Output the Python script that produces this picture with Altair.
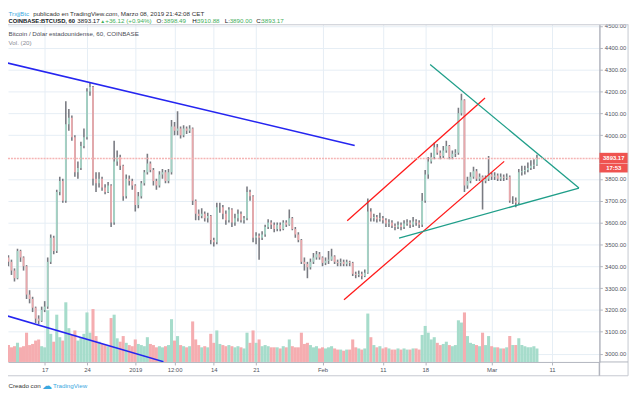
import altair as alt
import pandas as pd

# ---------------- data ----------------
day_start = -6.0          # days after 17 Dec 2018, 00:00
day_step = 0.5            # 12-hour candles
first_open = 3440

close = [
    3420, 3380, 3345, 3470, 3440, 3400, 3270, 3250, 3210, 3160,
    3150, 3200, 3215, 3420, 3530, 3470, 3740, 3790, 3700, 4050,
    4080, 3990, 3830, 3850, 3950, 3990, 4200, 4220, 3800, 3780,
    3800, 3760, 3740, 3770, 3600, 3880, 3900, 3860, 3720, 3800,
    3790, 3770, 3680, 3720, 3780, 3830, 3870, 3840, 3790, 3770,
    3820, 3830, 3790, 3830, 4040, 4020, 4030, 4000, 4030, 4020,
    4030, 3700, 3640, 3630, 3640, 3620, 3630, 3520, 3510, 3670,
    3670, 3640, 3610, 3660, 3600, 3620, 3640, 3610, 3620, 3740,
    3720, 3530, 3540, 3530, 3545, 3580, 3600, 3590, 3570, 3590,
    3570, 3600, 3590, 3620, 3570, 3545, 3520, 3420, 3410, 3395,
    3420, 3440, 3455, 3440, 3415, 3425, 3430, 3445, 3420, 3415,
    3420, 3410, 3420, 3415, 3365, 3360, 3365, 3355, 3370, 3650,
    3620, 3625, 3615, 3620, 3610, 3595, 3600, 3585, 3580, 3590,
    3580, 3595, 3600, 3590, 3605, 3600, 3590, 3700, 3820, 3880,
    3900, 3945, 3920, 3905, 3930, 3950, 3900, 3915, 3920, 4100,
    4160, 3770, 3790, 3810, 3835, 3800, 3810, 3790, 3800, 3820,
    3810, 3815, 3800, 3810, 3805, 3810, 3700, 3700, 3690, 3830,
    3835, 3840, 3850, 3860, 3865, 3893.17,
]
high = [
    3450, 3430, 3390, 3480, 3475, 3445, 3405, 3290, 3260, 3215,
    3175, 3215, 3240, 3440, 3545, 3540, 3750, 3810, 3800, 4155,
    4120, 4090, 4000, 3880, 3970, 4030, 4215, 4240, 4225, 3830,
    3830, 3810, 3775, 3785, 3775, 3975, 3930, 3910, 3865, 3820,
    3815, 3800, 3775, 3740, 3790, 3840, 3915, 3880, 3850, 3800,
    3835, 3845, 3840, 3845, 4070, 4060, 4110, 4040, 4045, 4040,
    4045, 4035, 3705, 3660, 3665, 3650, 3645, 3635, 3530, 3690,
    3690, 3680, 3655, 3670, 3665, 3640, 3660, 3650, 3630, 3765,
    3750, 3725, 3555, 3550, 3560, 3590, 3615, 3610, 3600, 3600,
    3600, 3610, 3610, 3660, 3625, 3580, 3555, 3525, 3440, 3420,
    3435, 3460, 3470, 3465, 3445, 3440, 3470, 3480, 3450, 3430,
    3435, 3430, 3430, 3425, 3420, 3375, 3380, 3375, 3385, 3710,
    3665, 3640, 3635, 3645, 3630, 3620, 3615, 3610, 3595, 3605,
    3600, 3610, 3615, 3610, 3625, 3615, 3610, 3735, 3840, 3900,
    3920, 3965, 3960, 3930, 3950, 3975, 3955, 3930, 3935, 4125,
    4190, 4165, 3810, 3830, 3855, 3845, 3825, 3815, 3815, 3905,
    3830, 3830, 3825, 3825, 3820, 3825, 3815, 3720, 3715, 3845,
    3860, 3860, 3875, 3885, 3890, 3910.88,
]
low = [
    3400, 3360, 3330, 3340, 3420, 3380, 3250, 3230, 3190, 3140,
    3135, 3145, 3190, 3205, 3410, 3455, 3460, 3725, 3690, 3690,
    4020, 3975, 3810, 3800, 3840, 3940, 3980, 4180, 3770, 3740,
    3760, 3745, 3730, 3735, 3580, 3590, 3860, 3840, 3700, 3710,
    3770, 3750, 3650, 3665, 3710, 3770, 3820, 3830, 3770, 3750,
    3760, 3800, 3780, 3780, 3820, 4000, 4000, 3985, 3990, 4005,
    4010, 3680, 3610, 3610, 3620, 3605, 3600, 3500, 3490, 3500,
    3645, 3615, 3590, 3600, 3580, 3585, 3605, 3600, 3595, 3610,
    3700, 3510, 3500, 3430, 3520, 3535, 3570, 3570, 3555, 3560,
    3560, 3565, 3580, 3585, 3565, 3530, 3510, 3410, 3380, 3345,
    3385, 3410, 3430, 3430, 3400, 3405, 3410, 3425, 3410, 3400,
    3400, 3400, 3400, 3400, 3355, 3345, 3350, 3340, 3350, 3365,
    3605, 3605, 3600, 3605, 3595, 3580, 3580, 3575, 3565, 3570,
    3565, 3570, 3585, 3575, 3580, 3585, 3575, 3580, 3690, 3800,
    3870, 3890, 3910, 3890, 3895, 3920, 3890, 3890, 3900, 3910,
    4090, 3740, 3755, 3780, 3800, 3790, 3790, 3660, 3780, 3790,
    3795, 3795, 3790, 3790, 3790, 3795, 3690, 3685, 3670, 3685,
    3815, 3820, 3830, 3840, 3845, 3860,
]
volume = [
    1500, 1300, 1400, 1700, 1300, 1400, 2600, 1500, 1600, 1900,
    2000, 1400, 1300, 4600, 2500, 1800, 4200, 2200, 1900, 5300,
    3000, 2400, 2800, 1900, 2200, 2500, 4400, 2600, 4700, 2300,
    1800, 1600, 1500, 1400, 3900, 4200, 2100, 1800, 2300, 1700,
    1500, 1400, 2000, 1600, 1500, 1400, 2200, 1600, 1500, 1300,
    1400, 1300, 1400, 1500, 3800, 1900, 2300, 1500, 1400, 1300,
    1400, 3600, 2000, 1500, 1300, 1400, 1300, 2500, 1700, 2800,
    1600, 1500, 1400, 1500, 1400, 1300, 1400, 1300, 1200, 2600,
    1700, 2800, 1700, 2000, 1400, 1500, 1400, 1300, 1300, 1300,
    1200, 1400, 1300, 2000, 1400, 1300, 1300, 2600, 1600, 1700,
    1500, 1300, 1400, 1200, 1300, 1200, 1300, 1400, 1200, 1100,
    1100, 1000, 1100, 1100, 2000, 1300, 1200, 1100, 1200, 4300,
    2200, 1500, 1300, 1400, 1200, 1300, 1200, 1100, 1100, 1200,
    1100, 1200, 1100, 1100, 1200, 1200, 1100, 2400, 3200, 2600,
    2000, 2200, 1700, 1500, 1600, 1800, 1500, 1400, 1500, 3700,
    3500, 4400, 2300, 1700, 1600, 1500, 1400, 2600, 1500, 2300,
    1400, 1300, 1300, 1200, 1200, 1300, 2300, 1500, 1500, 2100,
    1500, 1400, 1300, 1300, 1400, 1200,
]

tick_days = [0, 7, 15, 21.5, 28, 35, 46, 56, 63, 74, 84]
tick_labels = ["17", "24", "2019", "12:00", "14", "21", "Feb", "11", "18", "Mar", "11"]
# 3900 is hidden behind the last-price label, as in the reference
price_ticks = [3000, 3100, 3200, 3300, 3400, 3500, 3600, 3700, 3800,
               4000, 4100, 4200, 4300, 4400, 4500]

# drawn trend lines: (day, price) end points
blue_upper_d, blue_upper_p = [-6.54, 51.33], [4333, 3953]
blue_lower_d, blue_lower_p = [-6.54, 19.66], [3175, 2963]
red_upper_d, red_upper_p = [50.09, 72.91], [3608, 4170]
red_lower_d, red_lower_p = [49.56, 76.08], [3246, 3880]
green_upper_d, green_upper_p = [63.82, 88.46], [4324, 3758]
green_lower_d, green_lower_p = [58.67, 88.46], [3529, 3758]

last_price = 3893.17
last_time = "17:53"

# ---------------- table ----------------
n = len(close)
days = [day_start + day_step * i for i in range(n)]
opens = [first_open] + close[:-1]
df = pd.DataFrame({"d": days, "open": opens, "close": close,
                   "high": high, "low": low, "vol": volume})
df["dir"] = ["up" if c >= o else "down" for c, o in zip(close, opens)]

FONT = "Liberation Sans"
W, H = 599, 342

xs = alt.Scale(domain=[-5.256, 91.03], nice=False, zero=False)
ys = alt.Scale(domain=[2961.6, 4507.7], nice=False, zero=False)
vs = alt.Scale(domain=[0, 30000], nice=False)

label_cases = " : ".join(f"datum.value == {d:g} ? '{t}'" for d, t in zip(tick_days, tick_labels)) + " : ''"
x_axis = alt.Axis(values=tick_days, labelExpr=label_cases,
                  grid=True, gridColor="#e6eef5", gridWidth=1,
                  domainColor="#b2b5be", domainWidth=1, tickColor="#b2b5be",
                  tickSize=3, labelFontSize=6, labelFont=FONT, labelColor="#50535e",
                  labelPadding=2, labelFlush=False, labelOverlap=False, title=None)
y_axis = alt.Axis(orient="right", values=price_ticks, format=".2f",
                  grid=True, gridColor="#e6eef5", gridWidth=1,
                  domainColor="#b2b5be", domainWidth=1.5, tickColor="#b2b5be",
                  tickSize=3, labelFontSize=6, labelFont=FONT, labelColor="#50535e",
                  labelPadding=2, labelFlush=False, labelOverlap=False, title=None)


def X(field):
    return alt.X(f"{field}:Q", scale=xs, axis=x_axis)


def Y(field):
    return alt.Y(f"{field}:Q", scale=ys, axis=y_axis)


dir_scale = alt.Scale(domain=["up", "down"], range=["#53b987", "#eb4d5c"])
vol_scale = alt.Scale(domain=["up", "down"], range=["#a6dccb", "#f5adb0"])

base = alt.Chart(df)

vol = base.mark_bar(width=3.1, clip=True).encode(
    x=X("d"),
    y=alt.Y("vol:Q", scale=vs, axis=None),
    color=alt.Color("dir:N", scale=vol_scale, legend=None),
)

wick = base.mark_rule(color="#6a6d74", strokeWidth=1.6, clip=True, opacity=0.9).encode(
    x=X("d"), y=Y("low"), y2="high:Q",
)
body = base.mark_bar(width=1.8, clip=True, opacity=0.9).encode(
    x=X("d"), y=Y("open"), y2="close:Q",
    color=alt.Color("dir:N", scale=dir_scale, legend=None),
)


def trend(dd, pp, color, width):
    return alt.Chart(pd.DataFrame({"d": dd, "p": pp})).mark_line(
        color=color, strokeWidth=width, clip=True).encode(x=X("d"), y=Y("p"))


lines = [
    trend(blue_upper_d, blue_upper_p, "#2525f0", 1.6),
    trend(blue_lower_d, blue_lower_p, "#2525f0", 1.6),
    trend(red_upper_d, red_upper_p, "#ff1a1a", 1.3),
    trend(red_lower_d, red_lower_p, "#ff1a1a", 1.3),
    trend(green_upper_d, green_upper_p, "#1f9e89", 1.3),
    trend(green_lower_d, green_lower_p, "#1f9e89", 1.3),
]

lp = alt.Chart(pd.DataFrame({"p": [last_price]}))
price_line = lp.mark_rule(color="#f5b4b4", strokeWidth=1.5, strokeDash=[2, 1]).encode(y=Y("p"))
box1 = lp.transform_calculate(t="datum.p + 26", b="datum.p - 23").mark_rect(
    color="#ef5350").encode(x=alt.value(599), x2=alt.value(628), y=Y("t"), y2="b:Q")
box2 = lp.transform_calculate(t="datum.p - 25", b="datum.p - 64").mark_rect(
    color="#ef5350").encode(x=alt.value(599), x2=alt.value(628), y=Y("t"), y2="b:Q")
lab1 = lp.mark_text(color="white", font=FONT, fontSize=6, fontWeight="bold",
                    align="center", baseline="middle").encode(
    x=alt.value(613.5), y=Y("p"), text=alt.value(f"{last_price:.2f}"))
lab2 = lp.transform_calculate(q="datum.p - 44").mark_text(
    color="white", font=FONT, fontSize=6, fontWeight="bold",
    align="center", baseline="middle").encode(
    x=alt.value(613.5), y=Y("q"), text=alt.value(last_time))

price_group = alt.layer(wick, body, *lines, price_line, box1, box2, lab1, lab2)

one = pd.DataFrame({"a": [0]})


def txt(s, x, y, color="#131722", size=6.3, weight="normal", align="left"):
    return alt.Chart(one).mark_text(text=s, color=color, font=FONT, fontSize=size,
                                    fontWeight=weight, align=align, baseline="middle").encode(
        x=alt.value(x), y=alt.value(y))


def rule(x1, x2, y1, y2, color="#c5c8d0", w=1):
    return alt.Chart(one).mark_rule(color=color, strokeWidth=w).encode(
        x=alt.value(x1), x2=alt.value(x2), y=alt.value(y1), y2=alt.value(y2))


green = "#3fae5a"
decor = [
    rule(0, 628, 0.5, 0.5),
    rule(628, 628, 0, 356),
    rule(0, 628, 356, 356),
    rule(599, 628, 342, 342, "#b2b5be"),
    rule(599, 599, 342, 356, "#b2b5be", 1.5),
    txt("TrxjjBtc", 0.5, -10.5, color="#3aa8e0"),
    txt("publicado en TradingView.com, Marzo 08, 2019 21:42:08 CET", 25.5, -10.5, color="#333"),
    txt("COINBASE:BTCUSD, 60", 0.5, -3.5, weight="bold", size=5.9),
    txt("3893.17", 70.2, -3.5),
    txt("▲", 93.5, -3.5, color=green, size=5),
    txt("+36.12 (+0.94%)", 98.5, -3.5, color=green),
    txt("O:", 150.5, -3.5),
    txt("3898.49", 157.5, -3.5, color=green),
    txt("H:", 186.5, -3.5),
    txt("3910.88", 191.5, -3.5, color=green),
    txt("L:", 219.5, -3.5),
    txt("3890.00", 224.5, -3.5, color=green),
    txt("C:", 251.5, -3.5),
    txt("3893.17", 256.5, -3.5, color=green),
    txt("Bitcoin / Dólar estadounidense, 60, COINBASE", 0.5, 10.3, color="#4a4d57"),
    txt("Vol. (20)", 0.5, 18.7, color="#8a8d96"),
    txt("Creado con", 0.5, 366.3, color="#333"),
    txt("☁", 34, 366, color="#3aa8e0", size=10),
    txt("TradingView", 45.5, 366.3, color="#3aa8e0"),
]

chart = alt.layer(vol, price_group, *decor).resolve_scale(y="independent").properties(
    width=W, height=H,
    padding={"left": 0, "top": 14, "right": 33, "bottom": 33},
    autosize=alt.AutoSizeParams(type="none"),
    background="white",
).configure_view(strokeWidth=0)

chart.save("out.html", embed_options={"renderer": "svg", "actions": False})
